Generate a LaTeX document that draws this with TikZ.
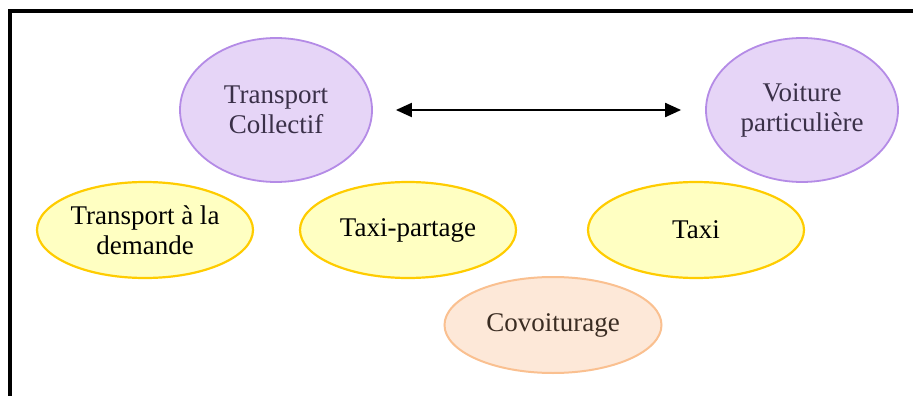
\documentclass[tikz,border=0pt]{standalone}
\usepackage{fontspec}
\setmainfont{Liberation Serif}
\usepackage{tikz}
\usetikzlibrary{arrows.meta,shapes.geometric}
\definecolor{lilafill}{HTML}{E6D5F7}
\definecolor{lilaline}{HTML}{B48BE6}
\definecolor{lilatext}{HTML}{3A3048}
\definecolor{gelbfill}{HTML}{FFFFC2}
\definecolor{gelbline}{HTML}{FFCC00}
\definecolor{orangefill}{HTML}{FDE8D8}
\definecolor{orangeline}{HTML}{FAC090}
\definecolor{orangetext}{HTML}{3A2C22}
\tikzset{
    %Define standard arrow tip
    >={Triangle[length=16pt,width=14pt]},
    %Define style for the ellipses
    blase/.style={
           ellipse,
           inner sep=0pt,
           align=center,
           font=\fontsize{27}{30}\selectfont},
    lila/.style={
           blase,
           fill=lilafill, draw=lilaline, line width=1.8pt,
           text=lilatext,
           minimum width=192pt,
           minimum height=144pt},
    gelb/.style={
           blase,
           fill=gelbfill, draw=gelbline, line width=2.2pt,
           minimum width=216pt,
           minimum height=96pt},
    orange/.style={
           blase,
           fill=orangefill, draw=orangeline, line width=2pt,
           text=orangetext,
           minimum width=217pt,
           minimum height=96pt},
    % Define arrow style
    pil/.style={
           <->,
           line width=2pt,
           shorten <=23pt,
           shorten >=24pt,}
}
\begin{document}
\begin{tikzpicture}[x=1pt, y=-1pt]
      \useasboundingbox (0,0) rectangle (913,396);
      \draw[line width=4pt] (10,398) -- (10,11) -- (915,11);

      \node[lila] (tc) at (276,110) {Transport\\Collectif};
      \node[lila] (vp) at (802,110) {Voiture\\particulière};
      \node[gelb] (tad) at (145,230) {Transport à la\\demande};
      \node[gelb] (tp) at (408,230) {Taxi-partage};
      \node[gelb] (taxi) at (696,230) {Taxi};
      \node[orange] (covoit) at (553,325) {Covoiturage};

      \draw[pil] (tc) -- (vp);
\end{tikzpicture}
\end{document}
